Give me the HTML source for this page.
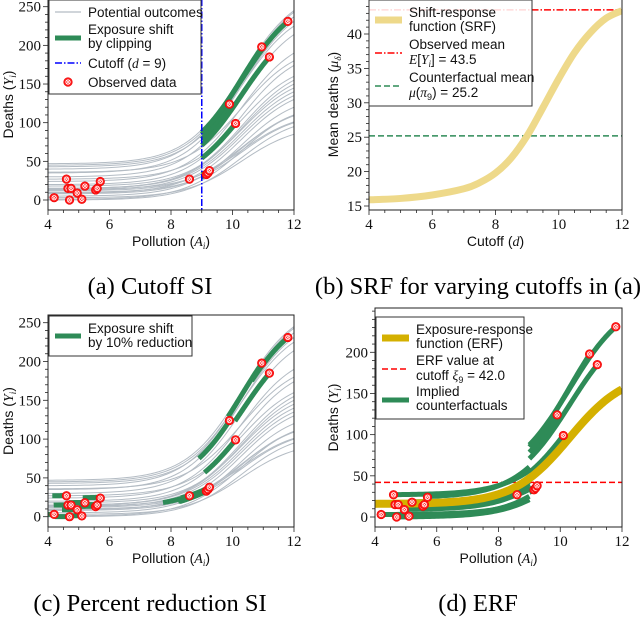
<!DOCTYPE html>
<html><head><meta charset="utf-8"><style>
html,body{margin:0;padding:0;background:#fff;}
svg{display:block;}
.tk{font-family:"Liberation Serif",serif;font-size:15px;fill:#111;}
.lab{font-family:"Liberation Sans",sans-serif;font-size:14px;fill:#111;}
.lg{font-family:"Liberation Sans",sans-serif;font-size:13.5px;fill:#111;}
.cap{font-family:"Liberation Serif",serif;font-size:24.5px;fill:#000;}
.m{font-family:"Liberation Serif",serif;font-style:italic;}
</style></head><body>
<svg id="fig" width="640" height="618" viewBox="0 0 640 618" xmlns="http://www.w3.org/2000/svg"></svg>
<script>
// ---- data ----
const obsA = [4.2,4.6,4.65,4.7,4.75,4.95,5.1,5.2,5.55,5.6,5.7,8.6,9.15,9.2,9.25,9.9,10.1,10.95,11.2,11.8];
const obsY = [3,27,15,0,15,9,1,18,13,15,24,27,33,35,38,124,99,198,185,231];
const curveBase = [3,27,15,0,15,9,1,18,13,15,24,12,10,8,14,35,20,40,30,45,47,43,36,5];
const curveTop = [85,160,140,95,150,130,110,145,135,155,190,109,100,110,101,231,174,243,214,237,245,225,180,120];
const srfD = [4,5,6,7,7.5,8,8.5,9,9.5,10,10.5,11,11.5,12];
const srfV = [15.9,16.1,16.6,17.5,18.4,19.8,22,25.2,29.3,33.5,37.3,40.2,42.3,43.4];
const cutoff = 9;
const observedMean = 43.5;
const counterfactualMean = 25.2;
const erfBase = 16, erfTop = 155;
const erfAtCutoff = 42.0;
const reduction = 0.1;
const xTicks = [4,6,8,10,12];
const yTicksA = [0,50,100,150,200,250];
const yTicksB = [15,20,25,30,35,40];
const yTicksD = [0,50,100,150,200];

const NS="http://www.w3.org/2000/svg";
const svg=document.getElementById('fig');
function el(tag,attrs,parent){const e=document.createElementNS(NS,tag);for(const k in attrs)e.setAttribute(k,attrs[k]);(parent||svg).appendChild(e);return e;}
function L(a){return 1/(1+Math.exp(-(a-10.3)*1.1));}
function g(a){return (L(a)-L(4))/(L(12)-L(4));}
function curveVal(i,a){return curveBase[i]+(curveTop[i]-curveBase[i])*g(a);}

function makePanel(name,x0,x1,yTop,yBot,v0,p0,v1,p1){
  const grp=el('g',{});
  
  
  const sx=a=>x0+(a-4)/(12-4)*(x1-x0);
  const sy=v=>p0+(v-v0)/(v1-v0)*(p1-p0);
  return {grp,sx,sy,x0,x1,yTop,yBot};
}
function clip(P,id){
  const d=el('defs',{},P.grp);const c=el('clipPath',{id:id},d);
  el('rect',{x:P.x0,y:P.yTop,width:P.x1-P.x0,height:P.yBot-P.yTop},c);
  const g2=el('g',{'clip-path':'url(#'+id+')'},P.grp);
  
  
  return g2;
}
function pathFrom(pts,P){return pts.map((p,k)=>(k?'L':'M')+P.sx(p[0]).toFixed(2)+','+P.sy(p[1]).toFixed(2)).join('');}
function smoothPath(pts,P){
  const q=pts.map(p=>[P.sx(p[0]),P.sy(p[1])]);
  let d='M'+q[0][0].toFixed(2)+','+q[0][1].toFixed(2);
  for(let i=0;i<q.length-1;i++){
    const p0=q[Math.max(0,i-1)],p1=q[i],p2=q[i+1],p3=q[Math.min(q.length-1,i+2)];
    const c1=[p1[0]+(p2[0]-p0[0])/6,p1[1]+(p2[1]-p0[1])/6];
    const c2=[p2[0]-(p3[0]-p1[0])/6,p2[1]-(p3[1]-p1[1])/6];
    d+='C'+c1[0].toFixed(2)+','+c1[1].toFixed(2)+' '+c2[0].toFixed(2)+','+c2[1].toFixed(2)+' '+p2[0].toFixed(2)+','+p2[1].toFixed(2);
  }
  return d;
}
function curvePts(i,a0,a1){const pts=[];const n=60;for(let k=0;k<=n;k++){const a=a0+(a1-a0)*k/n;pts.push([a,curveVal(i,a)]);}return pts;}
function axes(P,yTicks,yMinorStep,yMinV,yMaxV,xlabelHTML,ylabelHTML,labX){
  const G=P.grp;
  const fr=el('rect',{x:P.x0,y:P.yTop,width:P.x1-P.x0,height:P.yBot-P.yTop,fill:'none',stroke:'#222','stroke-width':1},G);
  
  for(let a=4;a<=12.001;a+=0.5){const maj=Math.abs(a-Math.round(a/2)*2)<1e-6;
    el('line',{x1:P.sx(a),x2:P.sx(a),y1:P.yBot,y2:P.yBot+(maj?5:3),stroke:'#222','stroke-width':0.8},G);}
  xTicks.forEach(t=>{const tx=el('text',{x:P.sx(t),y:P.yBot+19,'text-anchor':'middle',class:'tk'},G);tx.textContent=t;
    });
  for(let v=Math.ceil(yMinV/yMinorStep)*yMinorStep;v<=yMaxV;v+=yMinorStep){const y=P.sy(v);if(y<P.yTop||y>P.yBot)continue;
    const maj=yTicks.includes(v);el('line',{x1:P.x0-(maj?5:3),x2:P.x0,y1:y,y2:y,stroke:'#222','stroke-width':0.8},G);}
  yTicks.forEach(t=>{const ty=el('text',{x:P.x0-7,y:P.sy(t)+5,'text-anchor':'end',class:'tk'},G);ty.textContent=t;
    });
  const xl=el('text',{x:(P.x0+P.x1)/2,y:P.yBot+36,'text-anchor':'middle',class:'lab'},G);xl.innerHTML=xlabelHTML;
  
  const cy=(P.yTop+P.yBot)/2;
  const yl=el('text',{x:labX,y:cy,'text-anchor':'middle',class:'lab',transform:'rotate(-90 '+labX+' '+cy+')'},G);yl.innerHTML=ylabelHTML;
  
}
function marker(parent,x,y){
  const m=el('g',{},parent);
  
  el('circle',{cx:x,cy:y,r:4.3,fill:'#ff1a1a',stroke:'#e00','stroke-width':0.6},m);
  el('circle',{cx:x,cy:y,r:2.2,fill:'none',stroke:'#fff','stroke-width':0.8},m);
  el('path',{d:`M${x-1.6},${y-1.6}L${x+1.6},${y+1.6}M${x-1.6},${y+1.6}L${x+1.6},${y-1.6}`,stroke:'#fff','stroke-width':0.7},m);
}
function legendBox(G,x,y,w,h,name){const r=el('rect',{x,y,width:w,height:h,fill:'#fff','fill-opacity':0.85,stroke:'#333','stroke-width':1},G);
  return r;}
function lgText(G,x,y,html){const t=el('text',{x,y,class:'lg'},G);t.innerHTML=html;return t;}
function caption(x,y,txt){const t=el('text',{x,y,'text-anchor':'middle',class:'cap'});t.textContent=txt;}
const GREEN='#2e8b57', GREY='#b4bcc4';
const yLab='Deaths (<tspan class="m">Y</tspan><tspan class="m" font-size="9" dy="3">i</tspan><tspan dy="-3">)</tspan>';
const xLab='Pollution (<tspan class="m">A</tspan><tspan class="m" font-size="9" dy="3">i</tspan><tspan dy="-3">)</tspan>';

// ---- Panel A ----
(function(){
  const P=makePanel('panel-a-cutoff-si',48,294,-1,210,0,200,250,6.7);
  const C=clip(P,'clipA');
  curveBase.forEach((b,i)=>{const p=el('path',{d:pathFrom(curvePts(i,4,12),P),fill:'none',stroke:GREY,'stroke-width':1},C);
    });
  obsA.forEach((a,i)=>{if(a>cutoff){const p=el('path',{d:pathFrom(curvePts(i,cutoff,a),P),fill:'none',stroke:GREEN,'stroke-width':5},C);
    }});
  const v=el('line',{x1:P.sx(cutoff),x2:P.sx(cutoff),y1:P.yTop,y2:P.yBot,stroke:'#0000ff','stroke-width':1.5,'stroke-dasharray':'7,2,1.5,2'},C);
  
  obsA.forEach((a,i)=>marker(C,P.sx(a),P.sy(obsY[i])));
  axes(P,yTicksA,10,0,250,xLab,yLab,13);
  const G=P.grp;legendBox(G,49,0,152,94,'legend-a');
  el('line',{x1:55,x2:81,y1:12,y2:12,stroke:GREY,'stroke-width':1.2},G);lgText(G,88,17,'Potential outcomes');
  el('line',{x1:55,x2:81,y1:38,y2:38,stroke:GREEN,'stroke-width':5},G);lgText(G,88,34,'Exposure shift');lgText(G,88,48,'by clipping');
  el('line',{x1:55,x2:81,y1:63,y2:63,stroke:'#0000ff','stroke-width':1.5,'stroke-dasharray':'7,2,1.5,2'},G);lgText(G,88,68,'Cutoff (<tspan class="m">d</tspan> = 9)');
  marker(G,68,82);lgText(G,88,87,'Observed data');
})();

// ---- Panel B ----
(function(){
  const P=makePanel('panel-b-srf',369,622,-1,210,15,206,40,34);
  const C=clip(P,'clipB');
  const r=el('line',{x1:P.x0,x2:P.x1,y1:P.sy(observedMean),y2:P.sy(observedMean),stroke:'#ff0000','stroke-width':1.5,'stroke-dasharray':'7,2,1.5,2'},C);
  
  const gdash=el('line',{x1:P.x0,x2:P.x1,y1:P.sy(counterfactualMean),y2:P.sy(counterfactualMean),stroke:GREEN,'stroke-width':1.5,'stroke-dasharray':'6,3'},C);
  
  const s=el('path',{d:smoothPath(srfD.map((d,k)=>[d,srfV[k]]),P),fill:'none',stroke:'#eed98a','stroke-width':7,'stroke-linejoin':'round'},C);
  
  axes(P,yTicksB,1,15,44,'Cutoff (<tspan class="m">d</tspan>)','Mean deaths (<tspan class="m">μ</tspan><tspan class="m" font-size="9" dy="3">δ</tspan><tspan dy="-3">)</tspan>',338);
  const G=P.grp;legendBox(G,369,0,163,106,'legend-b');
  el('line',{x1:375,x2:402,y1:20,y2:20,stroke:'#eed98a','stroke-width':7},G);lgText(G,409,17,'Shift-response');lgText(G,409,31,'function (SRF)');
  el('line',{x1:375,x2:402,y1:53,y2:53,stroke:'#ff0000','stroke-width':1.5,'stroke-dasharray':'7,2,1.5,2'},G);lgText(G,409,49,'Observed mean');
  lgText(G,409,64,'<tspan class="m">E</tspan>[<tspan class="m">Y</tspan><tspan class="m" font-size="9" dy="3">i</tspan><tspan dy="-3">] = 43.5</tspan>');
  el('line',{x1:375,x2:402,y1:86,y2:86,stroke:GREEN,'stroke-width':1.5,'stroke-dasharray':'6,3'},G);lgText(G,409,82,'Counterfactual mean');
  lgText(G,409,97,'<tspan class="m">μ</tspan>(<tspan class="m">π</tspan><tspan font-size="9" dy="3">9</tspan><tspan dy="-3">) = 25.2</tspan>');
})();

// ---- Panel C ----
(function(){
  const P=makePanel('panel-c-percent-reduction',48,294,315,527,0,516.7,250,322.7);
  const C=clip(P,'clipC');
  curveBase.forEach((b,i)=>{const p=el('path',{d:pathFrom(curvePts(i,4,12),P),fill:'none',stroke:GREY,'stroke-width':1},C);
    });
  obsA.forEach((a,i)=>{const p=el('path',{d:pathFrom(curvePts(i,a*(1-reduction),a),P),fill:'none',stroke:GREEN,'stroke-width':5},C);
    });
  obsA.forEach((a,i)=>marker(C,P.sx(a),P.sy(obsY[i])));
  axes(P,yTicksA,10,0,260,xLab,yLab,13);
  const G=P.grp;legendBox(G,49,316,143,40,'legend-c');
  el('line',{x1:55,x2:81,y1:336,y2:336,stroke:GREEN,'stroke-width':5},G);lgText(G,88,333,'Exposure shift');lgText(G,88,347,'by 10% reduction');
})();

// ---- Panel D ----
(function(){
  const P=makePanel('panel-d-erf',375,622,308,527,0,517,200,352.3);
  const C=clip(P,'clipD');
  const h=el('line',{x1:P.x0,x2:P.x1,y1:P.sy(erfAtCutoff),y2:P.sy(erfAtCutoff),stroke:'#ff0000','stroke-width':1.5,'stroke-dasharray':'6,3'},C);
  
  obsA.forEach((a,i)=>{const lo=Math.min(a,cutoff),hi=Math.max(a,cutoff);
    const p=el('path',{d:pathFrom(curvePts(i,lo,hi),P),fill:'none',stroke:GREEN,'stroke-width':5},C);
    });
  const ep=[];for(let k=0;k<=80;k++){const a=4+8*k/80;ep.push([a,erfBase+(erfTop-erfBase)*g(a)]);}
  const e=el('path',{d:pathFrom(ep,P),fill:'none',stroke:'#d4b000','stroke-width':8},C);
  
  obsA.forEach((a,i)=>marker(C,P.sx(a),P.sy(obsY[i])));
  axes(P,yTicksD,10,0,260,xLab,yLab,338);
  const G=P.grp;legendBox(G,376,317,148,102,'legend-d');
  el('line',{x1:382,x2:409,y1:338,y2:338,stroke:'#d4b000','stroke-width':7},G);lgText(G,416,334,'Exposure-response');lgText(G,416,348,'function (ERF)');
  el('line',{x1:382,x2:409,y1:369,y2:369,stroke:'#ff0000','stroke-width':1.5,'stroke-dasharray':'6,3'},G);lgText(G,416,365,'ERF value at');
  lgText(G,416,380,'cutoff <tspan class="m">ξ</tspan><tspan font-size="9" dy="3">9</tspan><tspan dy="-3"> = 42.0</tspan>');
  el('line',{x1:382,x2:409,y1:400,y2:400,stroke:GREEN,'stroke-width':5},G);lgText(G,416,396,'Implied');lgText(G,416,410,'counterfactuals');
})();

caption(150,294,'(a) Cutoff SI');
caption(478,294,'(b) SRF for varying cutoffs in (a)');
caption(150,611,'(c) Percent reduction SI');
caption(478,611,'(d) ERF');
</script>
</body></html>
